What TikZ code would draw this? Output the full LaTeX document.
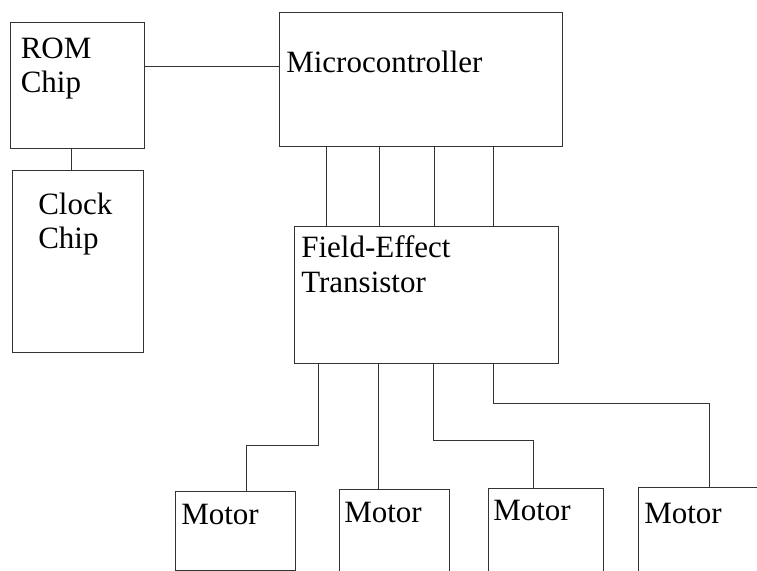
\documentclass[tikz,border=0pt]{standalone}
\usepackage{fontspec}
\setmainfont{Liberation Serif}
\usetikzlibrary{fit}
\begin{document}
\begin{tikzpicture}[x=0.75pt,y=-0.75pt,
  box/.style={draw=black!80, line width=0.75pt, inner sep=0pt},
  wire/.style={draw=black!80, line width=0.75pt},
  lbl/.style={inner sep=0pt, anchor=base west, font=\fontsize{23.25}{26.25}\selectfont, text=black}]
\useasboundingbox (0,0) rectangle (757,571);
\clip (0,0) rectangle (757,571);
% boxes
\node[box, fit={(10,22) (144,148)}] (rom) {};
\node[box, fit={(12,170) (143,352)}] (clock) {};
\node[box, fit={(279,12) (562,146)}] (micro) {};
\node[box, fit={(294,226) (558,363)}] (fet) {};
\node[box, fit={(175,491) (295,570)}] (m1) {};
\node[box, fit={(339,489) (449,580)}] (m2) {};
\node[box, fit={(488,488) (603,580)}] (m3) {};
\node[box, fit={(638,487) (780,580)}] (m4) {};
% labels
\node[lbl] (tR1) at (20.5,58) {ROM};
\node[lbl] (tR2) at (20.5,92) {Chip};
\node[lbl] (tC1) at (38,214) {Clock};
\node[lbl] (tC2) at (38,248) {Chip};
\node[lbl] (tM) at (286,72) {Microcontroller};
\node[lbl] (tF1) at (301,257) {Field-Effect};
\node[lbl] (tF2) at (301,292) {Transistor};
\node[lbl] (tm1) at (181,524) {Motor};
\node[lbl] (tm2) at (344,522) {Motor};
\node[lbl] (tm3) at (493,520) {Motor};
\node[lbl] (tm4) at (644,523) {Motor};
% helper coordinates
\coordinate (yR) at (0,66);
\coordinate (xC) at (71,0);
\coordinate (x1) at (326,0);
\coordinate (x2) at (379,0);
\coordinate (x3) at (434,0);
\coordinate (x4) at (493,0);
\coordinate (b1) at (318,0);
\coordinate (b2) at (378,0);
\coordinate (b3) at (433,0);
\coordinate (b4) at (493,0);
\coordinate (k1) at (246,445);
\coordinate (k3) at (533,440);
\coordinate (k4) at (709,403);
% connectors
\draw[wire] (rom.east |- yR) -- (micro.west |- yR);
\draw[wire] (rom.south -| xC) -- (clock.north -| xC);
\draw[wire] (micro.south -| x1) -- (fet.north -| x1);
\draw[wire] (micro.south -| x2) -- (fet.north -| x2);
\draw[wire] (micro.south -| x3) -- (fet.north -| x3);
\draw[wire] (micro.south -| x4) -- (fet.north -| x4);
\draw[wire] (fet.south -| b1) |- (k1) -- (m1.north -| k1);
\draw[wire] (fet.south -| b2) -- (m2.north -| b2);
\draw[wire] (fet.south -| b3) |- (k3) -- (m3.north -| k3);
\draw[wire] (fet.south -| b4) |- (k4) -- (m4.north -| k4);
\end{tikzpicture}
\end{document}
